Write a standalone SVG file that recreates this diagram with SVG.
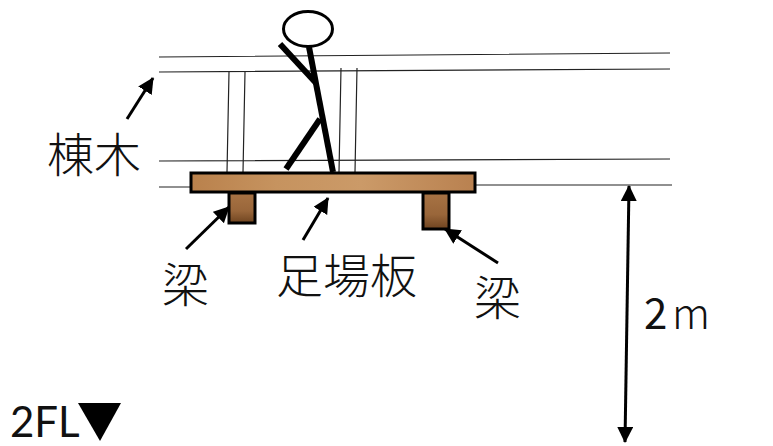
<svg xmlns="http://www.w3.org/2000/svg" width="773" height="446" viewBox="0 0 773 446">
<style>
.t{font-family:"Noto Sans CJK JP","Liberation Sans",sans-serif;font-weight:300;fill:#111;font-size:47px}
.n{font-family:"Noto Sans CJK JP","Liberation Sans",sans-serif;font-weight:400;fill:#111;font-size:42px}
.f{font-family:Lato,"Liberation Sans",sans-serif;font-weight:400;fill:#111;font-size:42px}
.l{stroke:#222;stroke-width:1.2;fill:none}
.a{stroke:#000;stroke-width:3;fill:none;marker-end:url(#ah)}
.b{stroke:#000;stroke-width:6;fill:none}
.w{stroke:#000;stroke-width:3}
</style>
<defs>
<marker id="ah" markerUnits="userSpaceOnUse" markerWidth="18" markerHeight="18" refX="15" refY="8" orient="auto"><path d="M0 0L16 8L0 16Z" fill="#000"/></marker>
<marker id="ah2" markerUnits="userSpaceOnUse" markerWidth="18" markerHeight="18" refX="15" refY="8" orient="auto-start-reverse"><path d="M0 0L16 8L0 16Z" fill="#000"/></marker>
<linearGradient id="wood" x1="0" x2="1" y1="0" y2="0"><stop offset="0" stop-color="#b9814c"/><stop offset=".3" stop-color="#c6935f"/><stop offset=".6" stop-color="#cb9a68"/><stop offset="1" stop-color="#b98150"/></linearGradient>
<linearGradient id="beam" x1="0" x2="0" y1="0" y2="1"><stop offset="0" stop-color="#a87344"/><stop offset=".6" stop-color="#99663a"/><stop offset="1" stop-color="#6f4420"/></linearGradient>
</defs>
<g id="connectors">
<path class="l" d="M159 57L670 53M159 72L670 69M159 161L670 159M159 187L191 187M475 185L672 185"/>
<path class="l" d="M229 72L227 172M245 72L243 172M341 68L339 172M357 68L355 172"/>
<path class="a" d="M127 119L153 78"/>
<path class="a" d="M186 249L229 207"/>
<path class="a" d="M303 240L328 198"/>
<path class="a" d="M498 263L445 229"/>
<path d="M629 186L625 442" stroke="#000" stroke-width="3" fill="none" marker-start="url(#ah2)" marker-end="url(#ah2)"/>
</g>
<g id="person">
<ellipse cx="308" cy="29" rx="24.500" ry="17.500" fill="#fff" stroke="#000" stroke-width="3"/>
<path class="b" d="M309 47L333 172"/>
<path class="b" d="M280 44L316 83"/>
<path class="b" d="M320 119L286 169"/>
</g>
<g id="board"><rect x="191" y="173" width="284" height="19" fill="url(#wood)" class="w"/></g>
<g id="beam-left"><rect x="229" y="193" width="26" height="30" fill="url(#beam)" class="w"/></g>
<g id="beam-right"><rect x="423" y="193" width="26" height="36" fill="url(#beam)" class="w"/></g>
<g id="label-munagi"><text class="t" x="47" y="172">棟木</text></g>
<g id="label-hari-left"><text class="t" x="162" y="302">梁</text></g>
<g id="label-ashiba"><text class="t" x="276" y="293">足場板</text></g>
<g id="label-hari-right"><text class="t" x="474" y="315">梁</text></g>
<g id="label-height"><text class="n" x="644" y="329">2</text><text class="t" x="672" y="329" style="font-size:42px">m</text></g>
<g id="label-2fl"><text class="f" x="10" y="437">2FL</text><path d="M78 403H121L100 441Z" fill="#000"/></g>
</svg>
